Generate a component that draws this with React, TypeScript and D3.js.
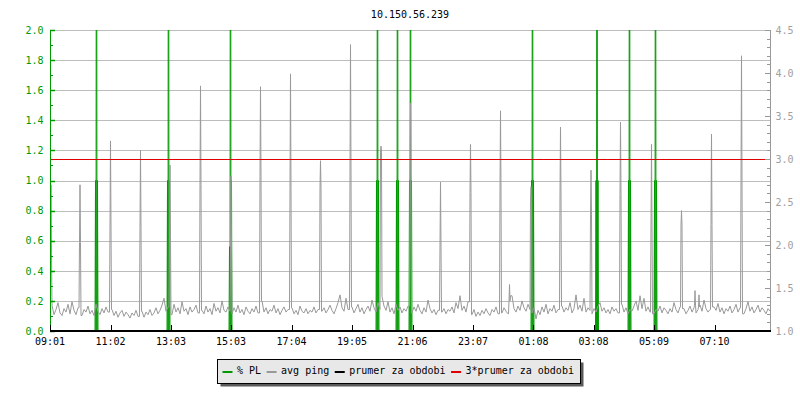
import React from "react";
import * as d3 from "d3";

// ---- data ----
const title = "10.150.56.239";
const timeTicks = [0, 121, 242, 362, 483, 604, 725, 846, 967, 1087, 1208, 1329];
const timeLabels = ["09:01", "11:02", "13:03", "15:03", "17:04", "19:05", "21:06", "23:07", "01:08", "03:08", "05:09", "07:10"];
const leftTicks = [0, 0.2, 0.4, 0.6, 0.8, 1.0, 1.2, 1.4, 1.6, 1.8, 2.0];
const rightTicks = [1.0, 1.5, 2.0, 2.5, 3.0, 3.5, 4.0, 4.5];

// avg ping baseline (ms), one sample every 4 minutes
const pingBase = [
  1.22,1.30,1.19,1.25,1.33,1.21,1.18,1.26,1.22,1.31,1.20,1.34,1.24,1.19,1.27,1.21,1.18,1.25,1.22,1.29,1.20,1.24,1.18,1.31,1.23,1.19,1.26,1.21,1.28,1.22,
  1.20,1.25,1.18,1.23,1.16,1.21,1.24,1.17,1.22,1.19,1.15,1.21,1.18,1.24,1.17,1.20,1.23,1.16,1.22,1.19,1.25,1.18,1.21,1.27,1.20,1.24,1.30,1.38,1.23,1.28,
  1.24,1.19,1.31,1.22,1.27,1.20,1.34,1.23,1.26,1.19,1.28,1.22,1.25,1.30,1.21,1.27,1.24,1.20,1.29,1.22,1.26,1.19,1.32,1.23,1.27,1.21,1.35,1.24,1.22,1.28,
  1.23,1.20,1.27,1.22,1.30,1.21,1.25,1.19,1.28,1.23,1.20,1.26,1.22,1.29,1.21,1.24,1.35,1.22,1.27,1.20,1.25,1.23,1.30,1.21,1.26,1.19,1.24,1.28,1.22,1.25,
  1.22,1.27,1.20,1.24,1.19,1.29,1.23,1.21,1.26,1.20,1.24,1.22,1.28,1.21,1.25,1.19,1.23,1.27,1.21,1.25,1.30,1.24,1.20,1.26,1.33,1.42,1.27,1.23,1.38,1.25,
  1.24,1.28,1.21,1.26,1.31,1.22,1.27,1.20,1.25,1.29,1.23,1.36,1.27,1.22,1.33,1.25,1.40,1.29,1.24,1.34,1.22,1.27,1.20,1.31,1.24,1.28,1.21,1.26,1.23,1.29,
  1.25,1.21,1.28,1.23,1.31,1.24,1.20,1.27,1.22,1.36,1.26,1.21,1.25,1.19,1.24,1.30,1.22,1.26,1.20,1.25,1.23,1.28,1.21,1.33,1.26,1.41,1.24,1.29,1.22,1.34,
  1.23,1.19,1.25,1.17,1.22,1.18,1.24,1.20,1.26,1.21,1.18,1.25,1.22,1.28,1.20,1.24,1.21,1.27,1.23,1.20,1.30,1.41,1.26,1.22,1.29,1.24,1.35,1.27,1.23,1.31,
  1.25,1.21,1.27,1.14,1.24,1.19,1.28,1.22,1.31,1.20,1.26,1.23,1.30,1.21,1.25,1.19,1.29,1.22,1.27,1.24,1.33,1.21,1.26,1.42,1.25,1.30,1.23,1.38,1.22,1.27,
  1.24,1.20,1.26,1.22,1.29,1.33,1.23,1.27,1.21,1.25,1.20,1.28,1.23,1.26,1.21,1.24,1.31,1.22,1.27,1.20,1.25,1.23,1.29,1.35,1.24,1.41,1.26,1.38,1.23,1.28,
  1.22,1.26,1.20,1.25,1.23,1.29,1.21,1.27,1.24,1.20,1.26,1.22,1.33,1.25,1.21,1.28,1.23,1.26,1.20,1.24,1.29,1.22,1.27,1.21,1.25,1.30,1.23,1.36,1.26,1.22,
  1.25,1.21,1.28,1.24,1.32,1.22,1.27,1.20,1.26,1.23,1.29,1.21,1.25,1.31,1.22,1.27,1.24,1.20,1.26,1.34,1.23,1.28,1.21,1.25,1.30,1.22,1.27,1.24,1.20,1.26,
  1.23,
];
const pingStep = 4;

// avg ping spikes: [minute, peak ms, shoulder ms]
const pingSpikes = [
  [2, 2.70, 1.9],
  [60, 2.70, 2.03],
  [121, 3.21, 2.21],
  [181, 3.10, 2.20],
  [240, 2.93, 2.10],
  [301, 3.85, 2.70],
  [362, 2.80, 2.00],
  [421, 3.84, 2.80],
  [481, 3.99, 2.66],
  [541, 2.98, 2.66],
  [601, 4.33, 2.86],
  [662, 3.15, 3.08],
  [721, 3.65, 2.75],
  [781, 2.73, 2.00],
  [841, 3.17, 2.61],
  [901, 3.56, 2.63],
  [919, 1.54, 1.35],
  [962, 2.68, 2.52],
  [1021, 3.37, 2.58],
  [1082, 2.87, 2.35],
  [1141, 3.43, 2.59],
  [1203, 3.17, 2.23],
  [1263, 2.40, 2.23],
  [1290, 1.47, 1.30],
  [1298, 1.42, 1.28],
  [1323, 3.29, 2.24],
  [1383, 4.20, 2.75],
];

// % PL events: [minute, loss before, peak loss, loss after] (1-minute samples, intermittent)
const plEvents = [
  [93, 1.0, 5, 1.0],
  [237, 1.0, 5, 1.0],
  [361, 0.56, 5, 1.0],
  [655, 1.0, 5, 1.0],
  [695, 1.0, 5, 1.0],
  [721, 1.0, 5, 1.0],
  [965, 1.0, 5, 1.0],
  [1094, 1.0, 5, 1.0],
  [1159, 1.0, 5, 1.0],
  [1211, 1.0, 5, 1.0],
];

const prumer = 1.0; // ms
const legendItems = [
  { label: "% PL", color: "#009900" },
  { label: "avg ping", color: "#999999" },
  { label: "prumer za obdobi", color: "#000000" },
  { label: "3*prumer za obdobi", color: "#e00000" },
];

// ---- layout ----
const W = 800, H = 400;
const L = 50, R = 770, T = 30, B = 331;
const FONT = "DejaVu Sans Mono";

export default function App() {
  const x = d3.scaleLinear().domain([0, 1440]).range([L, R]);
  const yL = d3.scaleLinear().domain([0, 2]).range([B, T]);
  const yR = d3.scaleLinear().domain([1, 4.5]).range([B, T]);

  // assemble ping points
  let pts: [number, number][] = pingBase.map((v, i) => [i * pingStep, v]);
  for (const [t, pk, sh] of pingSpikes) {
    const b1 = pingBase[Math.max(0, Math.floor((t - 2) / pingStep))];
    const b2 = pingBase[Math.min(pingBase.length - 1, Math.ceil((t + 2) / pingStep))];
    pts = pts.filter(([tb]) => Math.abs(tb - t) >= 3);
    pts.push([t - 2, b1], [t - 1, sh], [t, pk], [t + 1, sh], [t + 2, b2]);
  }
  pts.sort((a, b) => a[0] - b[0]);
  pts = pts.filter(([t]) => t >= 0 && t <= 1440);

  let plPts: [number, number][] = [[0, 0], [1440, 0]];
  for (const [t, bf, pk, af] of plEvents) {
    plPts.push([t - 3, 0], [t - 2, bf], [t - 1, 0], [t, pk], [t + 1, 0], [t + 2, af], [t + 3, 0]);
  }
  plPts.sort((a, b) => a[0] - b[0]);

  const pingLine = d3.line<[number, number]>().x((d) => x(d[0])).y((d) => yR(d[1]));
  const plLine = d3.line<[number, number]>().x((d) => x(d[0])).y((d) => yL(d[1]));

  const leftMinor = d3.range(1, 20, 2).map((v) => v / 10);
  const rightMinor = d3.range(10, 46).map((v) => v / 10);

  const charW = 6.02;
  let lx = 222.5;
  const legendPos = legendItems.map((it) => {
    const pos = { ...it, sx: lx, tx: lx + 14.5 };
    lx = pos.tx + it.label.length * charW + 5.5;
    return pos;
  });

  return (
    <svg width={W} height={H} style={{ position: "absolute", left: 0, top: 0, background: "#fff" }} fontFamily={FONT} fontSize={10}>
      <defs>
        <clipPath id="plot">
          <rect x={L} y={T} width={R - L} height={B - T} />
        </clipPath>
      </defs>
      <rect x={0} y={0} width={W} height={H} fill="#fff" />
      <text x={410} y={17.5} textAnchor="middle" fill="#000">{title}</text>

      {/* grid */}
      {leftTicks.map((v) => (
        <line key={"g" + v} x1={L} x2={R} y1={Math.round(yL(v)) + 0.5} y2={Math.round(yL(v)) + 0.5} stroke="#bdbdbd" strokeWidth={1} />
      ))}

      <g clipPath="url(#plot)">
        <path d={plLine(plPts) || ""} fill="none" stroke="#009900" strokeWidth={1} />
        <path d={pingLine(pts) || ""} fill="none" stroke="#999999" strokeWidth={1} />
        <line x1={L} x2={R} y1={yR(prumer)} y2={yR(prumer)} stroke="#000" strokeWidth={1} />
      </g>
      <line x1={L} x2={765} y1={Math.round(yR(3 * prumer)) + 0.5} y2={Math.round(yR(3 * prumer)) + 0.5} stroke="#e00000" strokeWidth={1} />

      {/* left axis */}
      <line x1={L + 0.5} x2={L + 0.5} y1={T} y2={B} stroke="#009900" strokeWidth={1} />
      {leftTicks.map((v) => (
        <g key={"lt" + v}>
          <line x1={L} x2={L + 5} y1={Math.round(yL(v)) + 0.5} y2={Math.round(yL(v)) + 0.5} stroke="#009900" strokeWidth={1.5} />
          <text x={43.5} y={yL(v) + 3.7} textAnchor="end" fill="#009900">{v.toFixed(1)}</text>
        </g>
      ))}
      {leftMinor.map((v) => (
        <line key={"lm" + v} x1={L} x2={L + 3} y1={Math.round(yL(v)) + 0.5} y2={Math.round(yL(v)) + 0.5} stroke="#009900" strokeWidth={1} />
      ))}

      {/* right axis */}
      <line x1={R + 0.5} x2={R + 0.5} y1={T} y2={B} stroke="#999" strokeWidth={1} />
      {rightMinor.map((v) => (
        <line key={"rm" + v} x1={R - 3} x2={R} y1={Math.round(yR(v)) + 0.5} y2={Math.round(yR(v)) + 0.5} stroke="#999" strokeWidth={1} />
      ))}
      {rightTicks.map((v) => (
        <g key={"rt" + v}>
          <line x1={R - 5} x2={R + 1} y1={Math.round(yR(v)) + 0.5} y2={Math.round(yR(v)) + 0.5} stroke="#999" strokeWidth={1} />
          <text x={775.5} y={yR(v) + 3.7} textAnchor="start" fill="#a0a0a0">{v.toFixed(1)}</text>
        </g>
      ))}

      {/* bottom axis */}
      <rect x={L} y={B - 1} width={R - L + 1} height={2} fill="#000" />
      {timeTicks.map((t, i) => (
        <g key={"xt" + t}>
          <line x1={Math.round(x(t)) + 0.5} x2={Math.round(x(t)) + 0.5} y1={325} y2={B} stroke="#000" strokeWidth={1} />
          <text x={x(t)} y={345} textAnchor="middle" fill="#000">{timeLabels[i]}</text>
        </g>
      ))}

      {/* legend */}
      <rect x={220.5} y={362.5} width={363} height={24} fill="#5a5a5a" />
      <rect x={217.5} y={359.5} width={363} height={24} fill="#e8e8e8" stroke="#000" strokeWidth={1} />
      {legendPos.map((it) => (
        <g key={it.label}>
          <rect x={it.sx} y={371} width={10} height={2} fill={it.color} />
          <text x={it.tx} y={374} fill="#000">{it.label}</text>
        </g>
      ))}
    </svg>
  );
}
